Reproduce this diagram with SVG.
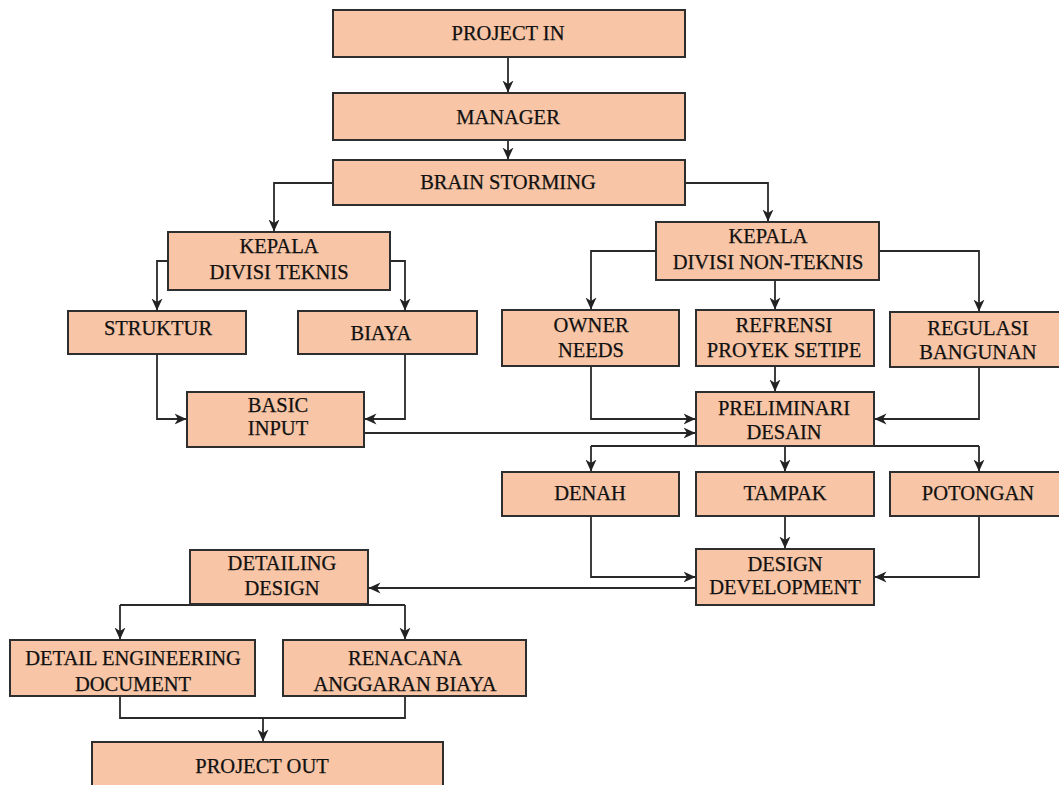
<svg xmlns="http://www.w3.org/2000/svg" width="1059" height="785" viewBox="0 0 1059 785">
<defs>
<marker id="arr" viewBox="0 0 12 12" refX="11.5" refY="6" markerWidth="12" markerHeight="12" markerUnits="userSpaceOnUse" orient="auto">
<path d="M0,0.5 L12,6 L0,11.5 L3.5,6 Z" fill="#222"/>
</marker>
<style>
.box{fill:#F8C5A6;stroke:#2e2e2e;stroke-width:2}
.t{font-family:"Liberation Serif","Times New Roman",serif;font-size:20.5px;fill:#111;stroke:#111;stroke-width:0.25;text-anchor:middle}
.c{fill:none;stroke:#2a2a2a;stroke-width:1.8}
.a{marker-end:url(#arr)}
</style>
</defs>
<rect width="1059" height="785" fill="#fff"/>
<g id="connectors">
<path class="c a" d="M508,57 V92"/>
<path class="c a" d="M508,140 V159"/>
<path class="c a" d="M333,183 H274 V231"/>
<path class="c a" d="M685,183 H768 V221"/>
<path class="c a" d="M168,261 H157 V310"/>
<path class="c a" d="M390,261 H405 V310"/>
<path class="c a" d="M157,354 V419 H186"/>
<path class="c a" d="M405,354 V419 H365"/>
<path class="c a" d="M364,433 H695"/>
<path class="c a" d="M656,251 H591 V309"/>
<path class="c a" d="M775,280 V309"/>
<path class="c a" d="M879,251 H979 V311"/>
<path class="c a" d="M775,366 V391"/>
<path class="c a" d="M591,366 V419 H695"/>
<path class="c a" d="M979,367 V419 H875"/>
<path class="c" d="M591,446 H979"/>
<path class="c a" d="M591,446 V471"/>
<path class="c a" d="M785,446 V471"/>
<path class="c a" d="M979,446 V471"/>
<path class="c a" d="M785,516 V548"/>
<path class="c a" d="M591,516 V577 H695"/>
<path class="c a" d="M979,516 V577 H875"/>
<path class="c a" d="M696,588 H369"/>
<path class="c" d="M120,605 H405"/>
<path class="c a" d="M120,605 V639"/>
<path class="c a" d="M405,605 V639"/>
<path class="c" d="M120,696 V718 H405 V696"/>
<path class="c a" d="M263,718 V741"/>
</g>
<g id="project-in"><rect class="box" x="333" y="10" width="352" height="47"/><text class="t" x="508" y="40">PROJECT IN</text></g>
<g id="manager"><rect class="box" x="333" y="93" width="352" height="47"/><text class="t" x="508" y="124">MANAGER</text></g>
<g id="brain-storming"><rect class="box" x="333" y="160" width="352" height="45"/><text class="t" x="508" y="189">BRAIN STORMING</text></g>
<g id="kepala-teknis"><rect class="box" x="168" y="232" width="222" height="58"/><text class="t" x="279" y="253">KEPALA</text><text class="t" x="279" y="279">DIVISI TEKNIS</text></g>
<g id="struktur"><rect class="box" x="68" y="311" width="178" height="43"/><text class="t" x="158" y="335">STRUKTUR</text></g>
<g id="biaya"><rect class="box" x="298" y="311" width="179" height="43"/><text class="t" x="381" y="340">BIAYA</text></g>
<g id="basic-input"><rect class="box" x="187" y="392" width="177" height="55"/><text class="t" x="278" y="412">BASIC</text><text class="t" x="278" y="435">INPUT</text></g>
<g id="kepala-non-teknis"><rect class="box" x="656" y="222" width="223" height="58"/><text class="t" x="768" y="243">KEPALA</text><text class="t" x="768" y="269">DIVISI NON-TEKNIS</text></g>
<g id="owner-needs"><rect class="box" x="502" y="310" width="177" height="56"/><text class="t" x="591" y="332">OWNER</text><text class="t" x="591" y="357">NEEDS</text></g>
<g id="refrensi"><rect class="box" x="696" y="310" width="178" height="56"/><text class="t" x="784" y="332">REFRENSI</text><text class="t" x="784" y="357">PROYEK SETIPE</text></g>
<g id="regulasi"><rect class="box" x="890" y="312" width="178" height="55"/><text class="t" x="978" y="335">REGULASI</text><text class="t" x="978" y="359">BANGUNAN</text></g>
<g id="preliminari"><rect class="box" x="696" y="392" width="178" height="54"/><text class="t" x="784" y="415">PRELIMINARI</text><text class="t" x="784" y="439">DESAIN</text></g>
<g id="denah"><rect class="box" x="502" y="472" width="177" height="44"/><text class="t" x="590" y="500">DENAH</text></g>
<g id="tampak"><rect class="box" x="696" y="472" width="178" height="44"/><text class="t" x="785" y="500">TAMPAK</text></g>
<g id="potongan"><rect class="box" x="890" y="472" width="178" height="44"/><text class="t" x="978" y="500">POTONGAN</text></g>
<g id="design-development"><rect class="box" x="696" y="549" width="178" height="56"/><text class="t" x="785" y="571">DESIGN</text><text class="t" x="785" y="594">DEVELOPMENT</text></g>
<g id="detailing-design"><rect class="box" x="190" y="550" width="178" height="54"/><text class="t" x="282" y="570">DETAILING</text><text class="t" x="282" y="595">DESIGN</text></g>
<g id="ded"><rect class="box" x="10" y="640" width="245" height="56"/><text class="t" x="133" y="665">DETAIL ENGINEERING</text><text class="t" x="133" y="691">DOCUMENT</text></g>
<g id="rab"><rect class="box" x="283" y="640" width="243" height="56"/><text class="t" x="405" y="665">RENACANA</text><text class="t" x="405" y="691">ANGGARAN BIAYA</text></g>
<g id="project-out"><rect class="box" x="92" y="742" width="351" height="50"/><text class="t" x="262" y="773">PROJECT OUT</text></g>
</svg>
